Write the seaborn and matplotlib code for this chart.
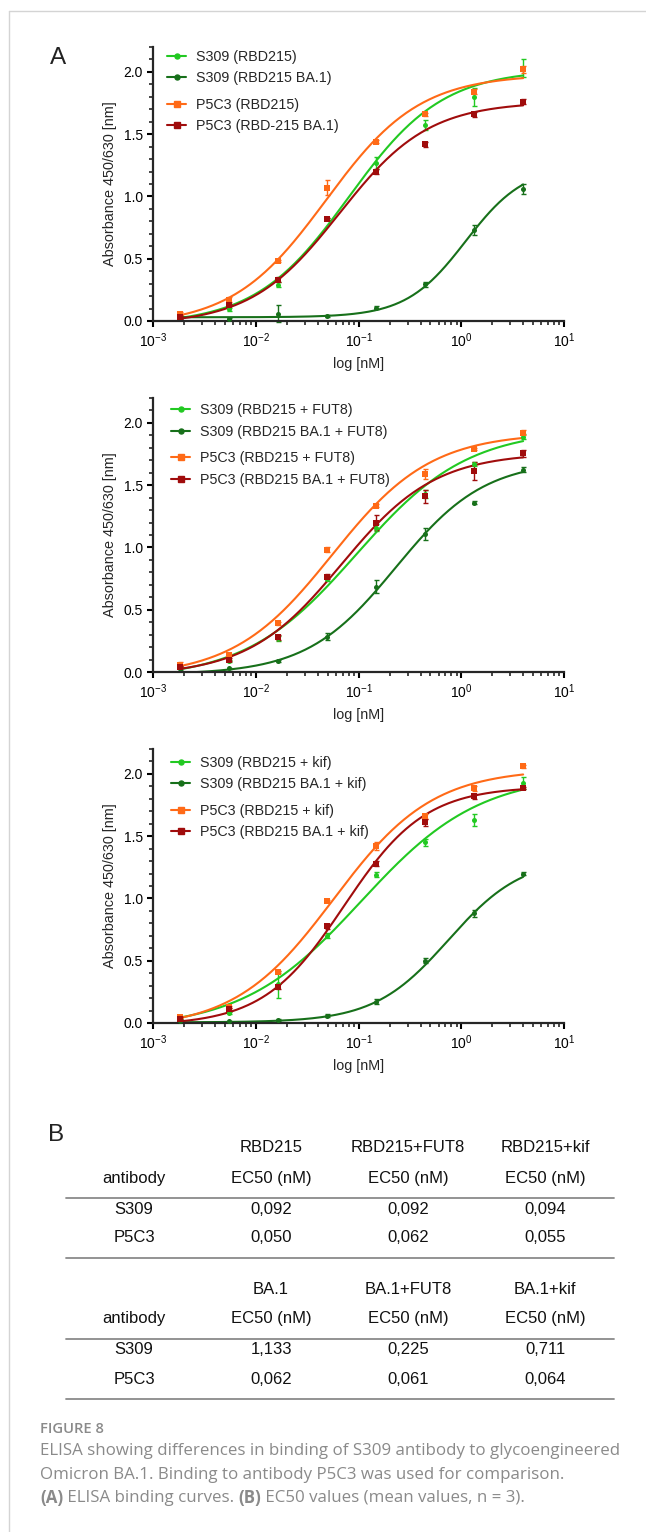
import numpy as np
import pandas as pd
import seaborn as sns
import matplotlib.pyplot as plt
from matplotlib.lines import Line2D
from matplotlib.ticker import MultipleLocator, LogLocator, NullFormatter, FormatStrFormatter

# concentrations (3-fold dilution, nM)
conc = [0.00183, 0.00549, 0.0165, 0.0494, 0.148, 0.444, 1.333, 4.0]

# panel 1: RBD215 / RBD215 BA.1
p1_s309_wt = [0.04, 0.094, 0.29, 0.82, 1.27, 1.57, 1.80, 2.03]
p1_s309_wt_err = [0.01, 0.01, 0.02, 0.01, 0.05, 0.04, 0.07, 0.07]
p1_s309_ba1 = [0.03, 0.016, 0.06, 0.04, 0.107, 0.295, 0.73, 1.06]
p1_s309_ba1_err = [0.01, 0.005, 0.07, 0.005, 0.01, 0.02, 0.04, 0.04]
p1_p5c3_wt = [0.06, 0.17, 0.48, 1.07, 1.44, 1.66, 1.84, 2.02]
p1_p5c3_wt_err = [0.01, 0.02, 0.01, 0.06, 0.01, 0.01, 0.02, 0.03]
p1_p5c3_ba1 = [0.03, 0.13, 0.33, 0.82, 1.20, 1.42, 1.66, 1.76]
p1_p5c3_ba1_err = [0.01, 0.01, 0.02, 0.01, 0.02, 0.02, 0.02, 0.02]

# panel 2: + FUT8
p2_s309_wt = [0.04, 0.09, 0.27, 0.75, 1.16, 1.43, 1.67, 1.89]
p2_s309_wt_err = [0.01, 0.01, 0.02, 0.02, 0.03, 0.03, 0.02, 0.02]
p2_s309_ba1 = [0.03, 0.03, 0.09, 0.285, 0.686, 1.11, 1.36, 1.625]
p2_s309_ba1_err = [0.01, 0.005, 0.01, 0.03, 0.05, 0.05, 0.01, 0.02]
p2_p5c3_wt = [0.06, 0.136, 0.39, 0.98, 1.335, 1.586, 1.79, 1.92]
p2_p5c3_wt_err = [0.02, 0.01, 0.01, 0.02, 0.01, 0.04, 0.01, 0.02]
p2_p5c3_ba1 = [0.04, 0.10, 0.28, 0.766, 1.20, 1.41, 1.615, 1.755]
p2_p5c3_ba1_err = [0.01, 0.01, 0.02, 0.02, 0.06, 0.05, 0.07, 0.03]

# panel 3: + kif
p3_s309_wt = [0.04, 0.08, 0.31, 0.70, 1.19, 1.45, 1.63, 1.925]
p3_s309_wt_err = [0.01, 0.01, 0.11, 0.02, 0.02, 0.03, 0.05, 0.05]
p3_s309_ba1 = [0.02, 0.013, 0.024, 0.06, 0.17, 0.50, 0.88, 1.20]
p3_s309_ba1_err = [0.01, 0.005, 0.005, 0.01, 0.02, 0.02, 0.03, 0.01]
p3_p5c3_wt = [0.05, 0.13, 0.41, 0.98, 1.42, 1.66, 1.885, 2.06]
p3_p5c3_wt_err = [0.01, 0.01, 0.01, 0.01, 0.03, 0.02, 0.02, 0.01]
p3_p5c3_ba1 = [0.035, 0.11, 0.29, 0.775, 1.28, 1.61, 1.82, 1.885]
p3_p5c3_ba1_err = [0.01, 0.01, 0.02, 0.02, 0.02, 0.03, 0.02, 0.01]

# 4PL fit parameters: bottom, top, EC50, hill
p1_fits = [(-0.03, 2.02, 0.08, 0.95), (0.03, 1.25, 1.1, 1.5),
           (-0.04, 1.98, 0.048, 0.95), (-0.03, 1.76, 0.065, 1.0)]
p2_fits = [(-0.06, 1.95, 0.095, 0.8), (-0.02, 1.70, 0.23, 1.0),
           (-0.04, 1.92, 0.055, 0.9), (-0.03, 1.76, 0.068, 0.95)]
p3_fits = [(-0.05, 2.0, 0.105, 0.75), (0.005, 1.33, 0.75, 1.2),
           (-0.05, 2.04, 0.057, 0.9), (-0.02, 1.9, 0.072, 1.1)]

p1_labels = ['S309 (RBD215)', 'S309 (RBD215 BA.1)', 'P5C3 (RBD215)', 'P5C3 (RBD-215 BA.1)']
p2_labels = ['S309 (RBD215 + FUT8)', 'S309 (RBD215 BA.1 + FUT8)',
             'P5C3 (RBD215 + FUT8)', 'P5C3 (RBD215 BA.1 + FUT8)']
p3_labels = ['S309 (RBD215 + kif)', 'S309 (RBD215 BA.1 + kif)',
             'P5C3 (RBD215 + kif)', 'P5C3 (RBD215 BA.1 + kif)']

colors = ['#22c922', '#17701a', '#ff6a17', '#a00c0c']
markers = ['o', 'o', 's', 's']

# table B
tab_cols_rbd = ['RBD215', 'RBD215+FUT8', 'RBD215+kif']
tab_cols_ba1 = ['BA.1', 'BA.1+FUT8', 'BA.1+kif']
antibodies = ['S309', 'P5C3']
ec50_rbd_s309 = ['0,092', '0,092', '0,094']
ec50_rbd_p5c3 = ['0,050', '0,062', '0,055']
ec50_ba1_s309 = ['1,133', '0,225', '0,711']
ec50_ba1_p5c3 = ['0,062', '0,061', '0,064']

sns.set_style('ticks')
plt.rcParams['font.family'] = ['Liberation Sans', 'DejaVu Sans']
plt.rcParams['mathtext.fontset'] = 'custom'
plt.rcParams['mathtext.rm'] = 'Liberation Sans'
plt.rcParams['mathtext.it'] = 'Liberation Sans:italic'
plt.rcParams['mathtext.bf'] = 'Liberation Sans:bold'
plt.rcParams['axes.unicode_minus'] = False

W, H = 646, 1532
fig = plt.figure(figsize=(W / 100, H / 100), dpi=100)


def fx(x):
    return x / W


def fy(y):
    return 1 - y / H


panels = [
    (p1_labels, [p1_s309_wt, p1_s309_ba1, p1_p5c3_wt, p1_p5c3_ba1],
     [p1_s309_wt_err, p1_s309_ba1_err, p1_p5c3_wt_err, p1_p5c3_ba1_err], p1_fits, 321, 167, 0.99, 0.815),
    (p2_labels, [p2_s309_wt, p2_s309_ba1, p2_p5c3_wt, p2_p5c3_ba1],
     [p2_s309_wt_err, p2_s309_ba1_err, p2_p5c3_wt_err, p2_p5c3_ba1_err], p2_fits, 672, 171, 0.98, 0.805),
    (p3_labels, [p3_s309_wt, p3_s309_ba1, p3_p5c3_wt, p3_p5c3_ba1],
     [p3_s309_wt_err, p3_s309_ba1_err, p3_p5c3_wt_err, p3_p5c3_ba1_err], p3_fits, 1023, 171, 0.975, 0.8),
]

ax_left, ax_right = 153.4, 564
ax_h = 274

for labels, means, errs, fits, ybot, leg_x, leg_y1, leg_y2 in panels:
    ax = fig.add_axes([fx(ax_left), fy(ybot), (ax_right - ax_left) / W, ax_h / H])
    ax.set_xscale('log')
    xs = np.logspace(np.log10(conc[0]), np.log10(conc[-1]), 300)
    handles = []
    for i in range(4):
        b, t, ec, h = fits[i]
        curve = pd.DataFrame({'x': xs, 'y': b + (t - b) / (1 + (ec / xs) ** h)})
        sns.lineplot(data=curve, x='x', y='y', color=colors[i], lw=1.5, ax=ax, legend=False)
        ax.errorbar(conc, means[i], yerr=errs[i], fmt='none', ecolor=colors[i],
                    elinewidth=1, capsize=1.8, capthick=1, clip_on=False)
        sns.scatterplot(x=conc, y=means[i], marker=markers[i], color=colors[i],
                        s=14 if markers[i] == 's' else 13, linewidth=0, ax=ax,
                        clip_on=False, zorder=3)
        handles.append(Line2D([], [], color=colors[i], marker=markers[i], lw=1.5,
                              markersize=3.8 if markers[i] == 's' else 3.6))
    ax.set_xlim(1e-3, 1e1)
    ax.set_ylim(0, 2.2)
    ax.yaxis.set_major_locator(MultipleLocator(0.5))
    ax.yaxis.set_minor_locator(MultipleLocator(0.1))
    ax.yaxis.set_major_formatter(FormatStrFormatter('%.1f'))
    ax.xaxis.set_major_locator(LogLocator(base=10, numticks=10))
    ax.xaxis.set_minor_locator(LogLocator(base=10, subs=np.arange(2, 10), numticks=10))
    ax.xaxis.set_minor_formatter(NullFormatter())
    sns.despine(ax=ax)
    for s in ['left', 'bottom']:
        ax.spines[s].set_linewidth(1.6)
    ax.tick_params(which='major', length=4.5, width=1.5, labelsize=10, pad=3, colors='black')
    ax.tick_params(which='minor', length=3, width=1.2)
    ax.set_xlabel('log [nM]', fontsize=10.4, labelpad=5)
    ax.set_ylabel('Absorbance 450/630 [nm]', fontsize=10.4, labelpad=5)

    lx = (leg_x - ax_left) / (ax_right - ax_left)
    leg_kw = dict(loc='upper left', frameon=False, fontsize=10.3, borderpad=0,
                  borderaxespad=0, handlelength=1.35, handletextpad=0.65,
                  labelspacing=0.5, numpoints=1)
    leg1 = ax.legend(handles[:2], labels[:2], bbox_to_anchor=(lx, leg_y1), **leg_kw)
    ax.add_artist(leg1)
    ax.legend(handles[2:], labels[2:], bbox_to_anchor=(lx, leg_y2), **leg_kw)

# panel letters
fig.text(fx(58), fy(58), 'A', fontsize=17.5, ha='center', va='center', color='#222222')
fig.text(fx(56), fy(1135), 'B', fontsize=17.5, ha='center', va='center', color='#222222')

# table B
col_x = [271, 408, 545]
ab_x = 134
tcol = '#111111'
tfs = 12


def hline(y):
    fig.add_artist(Line2D([fx(66), fx(614)], [fy(y), fy(y)], color='#8a8a8a', lw=1.3,
                          transform=fig.transFigure))


def table_block(cols, s309_vals, p5c3_vals, y0):
    for cx, name in zip(col_x, cols):
        fig.text(fx(cx), fy(y0), name, fontsize=tfs, ha='center', va='center', color=tcol)
        fig.text(fx(cx), fy(y0 + 30), 'EC50 (nM)', fontsize=tfs, ha='center', va='center', color=tcol)
    fig.text(fx(ab_x), fy(y0 + 30), 'antibody', fontsize=tfs, ha='center', va='center', color=tcol)
    hline(y0 + 49.5)
    for row, (ab, vals) in enumerate(zip(antibodies, [s309_vals, p5c3_vals])):
        yy = y0 + 61 + row * 29
        fig.text(fx(ab_x), fy(yy), ab, fontsize=tfs, ha='center', va='center', color=tcol)
        for cx, v in zip(col_x, vals):
            fig.text(fx(cx), fy(yy), v, fontsize=tfs, ha='center', va='center', color=tcol)
    hline(y0 + 109.5)


table_block(tab_cols_rbd, ec50_rbd_s309, ec50_rbd_p5c3, 1148)
table_block(tab_cols_ba1, ec50_ba1_s309, ec50_ba1_p5c3, 1289)

# border lines of the figure box
fig.add_artist(Line2D([fx(9), 1], [fy(11), fy(11)], color='#d4d4d4', lw=1, transform=fig.transFigure))
fig.add_artist(Line2D([fx(9), fx(9)], [0, fy(11)], color='#d4d4d4', lw=1, transform=fig.transFigure))

# caption
cap_font = ['Open Sans', 'DejaVu Sans']
cap_col = '#8a8a8a'
renderer = fig.canvas.get_renderer()

fig.text(fx(40), fy(1429), 'FIGURE 8', fontsize=10.6, weight='semibold', family=cap_font,
         color=cap_col, va='center', ha='left')
line1 = fig.text(fx(40), fy(1451), 'ELISA showing differences in binding of S309 antibody to glycoengineered',
                 fontsize=10, family=cap_font, color=cap_col, va='center', ha='left')
# size the caption so its first line spans the same width as in the figure
cap_fs = 10 * 580 / line1.get_window_extent(renderer=renderer).width
line1.set_fontsize(cap_fs)
fig.text(fx(40), fy(1475), 'Omicron BA.1. Binding to antibody P5C3 was used for comparison.',
         fontsize=cap_fs, family=cap_font, color=cap_col, va='center', ha='left')

x_cur = fx(40)
for piece, wt in [('(A)', 'bold'), (' ELISA binding curves. ', 'normal'),
                  ('(B)', 'bold'), (' EC50 values (mean values, n = 3).', 'normal')]:
    t = fig.text(x_cur, fy(1498), piece, fontsize=cap_fs, family=cap_font, weight=wt,
                 color=cap_col, va='center', ha='left')
    bb = t.get_window_extent(renderer=renderer)
    x_cur += bb.width / W

fig.savefig('out.png', dpi=100)
